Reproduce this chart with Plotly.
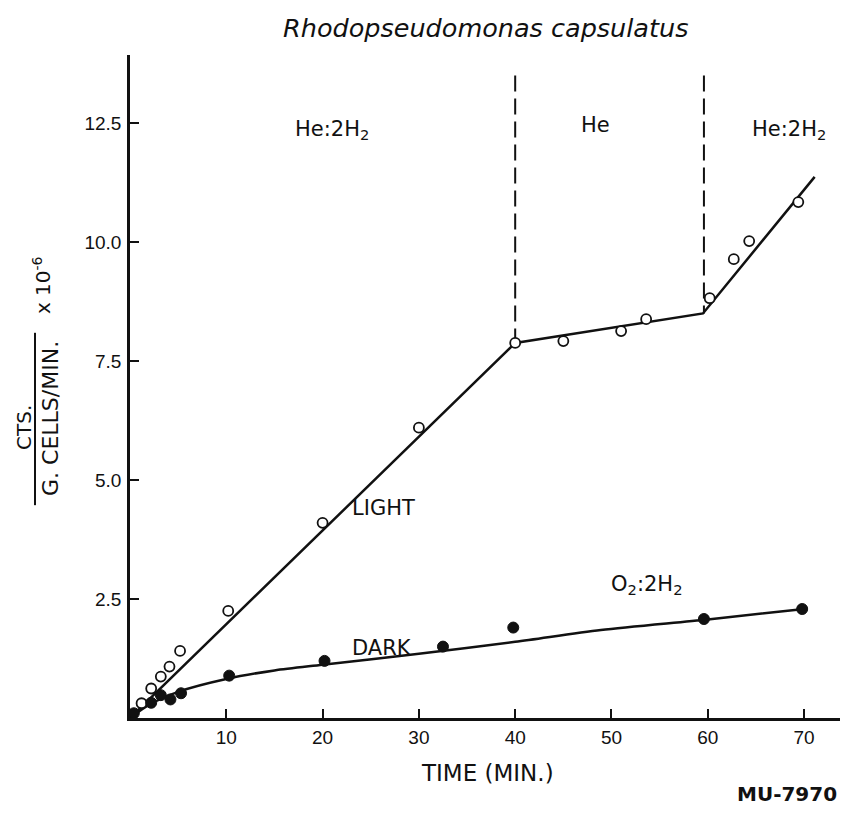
import plotly.graph_objects as go

# ---- data ----
light_t = [1.2, 2.2, 3.2, 4.1, 5.2, 10.2, 20, 30, 40, 45, 51, 53.6, 60.2, 62.7, 64.3, 69.4]
light_v = [0.31, 0.62, 0.87, 1.08, 1.41, 2.25, 4.1, 6.1, 7.88, 7.92, 8.13, 8.38, 8.82, 9.64, 10.02, 10.84]

dark_t = [0.4, 2.2, 3.2, 4.2, 5.3, 10.3, 20.2, 32.5, 39.8, 59.6, 69.8]
dark_v = [0.1, 0.32, 0.48, 0.39, 0.52, 0.89, 1.2, 1.5, 1.9, 2.08, 2.29]

light_fit_t = [0, 40, 59.5, 71.1]
light_fit_v = [0, 7.88, 8.5, 11.37]

dark_fit_t = [0, 2, 5, 10, 15, 20, 30, 40, 48.9, 60, 70]
dark_fit_v = [0, 0.28, 0.55, 0.82, 1.0, 1.12, 1.35, 1.6, 1.85, 2.07, 2.29]

dash1_t = [40, 40]
dash1_v = [13.5, 7.88]
dash2_t = [59.6, 59.6]
dash2_v = [13.5, 8.5]

x_ticks = [10, 20, 30, 40, 50, 60, 70]
y_ticks = [2.5, 5.0, 7.5, 10.0, 12.5]
y_tick_text = ["2.5", "5.0", "7.5", "10.0", "12.5"]

TICKFONT = "Liberation Sans"
LABFONT = "DejaVu Sans"
BLACK = "#111111"

fig = go.Figure()

fig.add_trace(go.Scatter(x=light_fit_t, y=light_fit_v, mode="lines",
                         line=dict(color=BLACK, width=2.5), hoverinfo="skip"))
fig.add_trace(go.Scatter(x=dark_fit_t, y=dark_fit_v, mode="lines",
                         line=dict(color=BLACK, width=2.5, shape="spline", smoothing=0.8),
                         hoverinfo="skip"))
for dt, dv in [(dash1_t, dash1_v), (dash2_t, dash2_v)]:
    fig.add_trace(go.Scatter(x=dt, y=dv, mode="lines",
                             line=dict(color=BLACK, width=2, dash="16px,7px"),
                             hoverinfo="skip"))
fig.add_trace(go.Scatter(x=light_t, y=light_v, mode="markers",
                         marker=dict(symbol="circle", size=10, color="white",
                                     line=dict(color=BLACK, width=1.8))))
fig.add_trace(go.Scatter(x=dark_t, y=dark_v, mode="markers",
                         marker=dict(symbol="circle", size=11, color=BLACK,
                                     line=dict(color=BLACK, width=1))))

anns = []
def txt(x, y, s, size=18, xref="x", yref="y", family=LABFONT, xanchor="center", **kw):
    anns.append(dict(x=x, y=y, xref=xref, yref=yref, text=s, showarrow=False,
                     xanchor=xanchor, yanchor="middle",
                     font=dict(family=family, size=size, color=BLACK), **kw))

txt(21.0, 12.35, "He:2H<sub>2</sub>", size=21)
txt(48.3, 12.46, "He", size=21)
txt(68.4, 12.35, "He:2H<sub>2</sub>", size=21)
txt(26.3, 4.41, "LIGHT", size=21)
txt(26.2, 1.47, "DARK", size=21)
txt(53.6, 2.79, "O<sub>2</sub>:2H<sub>2</sub>", size=21)
# title
txt(0.501, 1.041, "<i>Rhodopseudomonas capsulatus</i>", size=25.5,
    xref="paper", yref="paper")
# x axis title
txt(0.503, -0.083, "TIME (MIN.)", size=23, xref="paper", yref="paper")
# ID
txt(0.926, -0.114, "<b>MU-7970</b>", size=20, xref="paper", yref="paper")
# y axis label (fraction)
txt(-0.1493, 0.439, "CTS.", size=20, xref="paper", yref="paper", textangle=-90)
txt(-0.1113, 0.4525, "G. CELLS/MIN.", size=22, xref="paper", yref="paper", textangle=-90)
txt(-0.1239, 0.653, "x 10<sup>-6</sup>", size=20, xref="paper", yref="paper", textangle=-90)

fig.update_layout(
    width=832, height=798,
    margin=dict(l=122, r=0, t=47, b=88),
    paper_bgcolor="white", plot_bgcolor="white",
    showlegend=False,
    font=dict(family=TICKFONT, size=19, color=BLACK),
    annotations=anns,
    shapes=[dict(type="line", xref="paper", yref="paper",
                 x0=-0.1338, x1=-0.1338, y0=0.321, y1=0.581,
                 line=dict(color=BLACK, width=2))],
)
fig.update_xaxes(range=[0, 73.73], tickvals=x_ticks, ticks="inside", ticklen=9,
                 tickwidth=2, tickcolor=BLACK, showline=True, linecolor=BLACK,
                 linewidth=2.5, showgrid=False, zeroline=False,
                 tickfont=dict(size=19), ticklabelstandoff=0)
fig.update_yaxes(range=[0, 13.93], tickvals=y_ticks, ticktext=y_tick_text,
                 ticks="inside", ticklen=9, tickwidth=2, tickcolor=BLACK,
                 showline=True, linecolor=BLACK, linewidth=2.5, showgrid=False,
                 zeroline=False, tickfont=dict(size=19), ticklabelstandoff=2)

fig.write_html("out.html")
